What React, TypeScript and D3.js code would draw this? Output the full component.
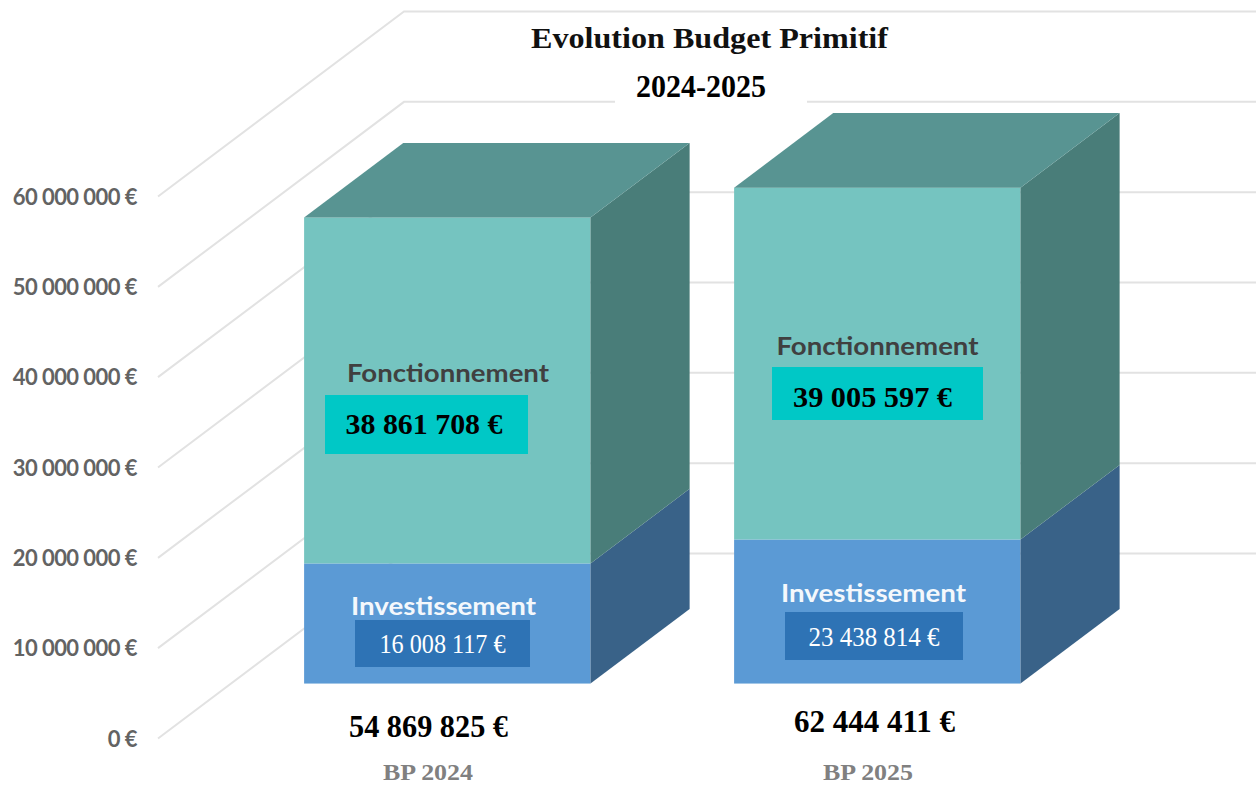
import React from "react";
import * as d3 from "d3";

const categories = ["BP 2024", "BP 2025"];
// bar heights as they read against the axis (the drawing is not exactly to its labels)
const investissementDrawn = [13300000, 15950000];
const fonctionnementDrawn = [38300000, 38950000];
const investissementLabels = ["16 008 117 €", "23 438 814 €"];
const fonctionnementLabels = ["38 861 708 €", "39 005 597 €"];
const totalLabels = ["54 869 825 €", "62 444 411 €"];

const width = 1256;
const height = 785;
const serif = "'Liberation Serif', serif";
const sans = "Lato, sans-serif";

const x = d3
  .scaleBand<string>()
  .domain(categories)
  .range([232.3, 1092.3])
  .paddingInner(0.334)
  .paddingOuter(0.167);
const y = d3.scaleLinear().domain([0, 60000000]).range([738.5, 196.5]);
const depthX = d3.scaleLinear().domain([0, 1]).range([0, 246]);
const depthY = d3.scaleLinear().domain([0, 1]).range([0, -185]);

const frontDepth = 0.297;
const backDepth = 0.7;
const dx = depthX(backDepth) - depthX(frontDepth);
const dy = depthY(backDepth) - depthY(frontDepth);
const frontY = (v: number) => y(v) + depthY(frontDepth);

const locale = d3.formatLocale({
  decimal: ",",
  thousands: " ",
  grouping: [3],
  currency: ["", " €"],
});
const tickFormat = locale.format("$,.0f");

const line = d3.line();

// per bar positions of the value boxes and captions
const fonctBox = [
  { x: 325, y: 395, w: 203, h: 59 },
  { x: 772, y: 367, w: 211, h: 53 },
];
const investBox = [
  { x: 355, y: 620, w: 175, h: 47 },
  { x: 785, y: 612, w: 178, h: 48 },
];
const fonctValue = [
  { x: 424, y: 434, w: 157 },
  { x: 872.5, y: 407, w: 159 },
];
const investValue = [
  { x: 442.5, y: 653, w: 126 },
  { x: 874, y: 646, w: 131 },
];
const fonctCaption = [
  { x: 448, y: 382 },
  { x: 877.5, y: 355 },
];
const investCaption = [
  { x: 443.5, y: 615 },
  { x: 873.5, y: 602 },
];
const totalPos = [
  { x: 428.5, y: 737, w: 159 },
  { x: 874.5, y: 732, w: 161 },
];
const catPos = [
  { x: 428, y: 779.5 },
  { x: 868, y: 779.5 },
];

function Block({ x0, w, v0, v1, front, side, top }: any) {
  const y0 = frontY(v0);
  const y1 = frontY(v1);
  const quad = (pts: [number, number][]) => line(pts) + "Z";
  return (
    <g>
      <rect x={x0} y={y1} width={w} height={y0 - y1} fill={front} />
      <path
        d={quad([
          [x0 + w, y0],
          [x0 + w + dx, y0 + dy],
          [x0 + w + dx, y1 + dy],
          [x0 + w, y1],
        ])}
        fill={side}
      />
      {top && (
        <path
          d={quad([
            [x0, y1],
            [x0 + dx, y1 + dy],
            [x0 + w + dx, y1 + dy],
            [x0 + w, y1],
          ])}
          fill={top}
        />
      )}
    </g>
  );
}

export default function App() {
  const ticks = y.ticks(6);
  const gridColor = "#e2e2e2";
  return (
    <svg
      width={width}
      height={height}
      viewBox={`0 0 ${width} ${height}`}
      style={{ position: "absolute", left: 0, top: 0, background: "#fff" }}
    >
      {ticks.map((t) => (
        <g key={t}>
          <path
            d={
              line([
                [158, y(t)],
                [158 + depthX(1), y(t) + depthY(1)],
                [width, y(t) + depthY(1)],
              ]) as string
            }
            fill="none"
            stroke={gridColor}
            strokeWidth={2}
          />
          <text
            x={137}
            y={y(t) + 8}
            textAnchor="end"
            fontFamily={sans}
            fontWeight={700}
            fontSize={22}
            letterSpacing={-0.55}
            fill="#636363"
          >
            {tickFormat(t)}
          </text>
        </g>
      ))}

      {categories.map((c, i) => {
        const x0 = x(c) as number;
        const w = x.bandwidth();
        const a = investissementDrawn[i];
        const b = a + fonctionnementDrawn[i];
        return (
          <g key={c}>
            <Block x0={x0} w={w} v0={0} v1={a} front="#5b9ad5" side="#396288" />
            <Block
              x0={x0}
              w={w}
              v0={a}
              v1={b}
              front="#75c4c0"
              side="#497d79"
              top="#589492"
            />
            <text
              x={fonctCaption[i].x}
              y={fonctCaption[i].y}
              textAnchor="middle"
              fontFamily={sans}
              fontWeight={700}
              fontSize={25}
              fill="#404040"
              textLength={202}
              lengthAdjust="spacingAndGlyphs"
            >
              Fonctionnement
            </text>
            <rect {...rectOf(fonctBox[i])} fill="#00c8c6" />
            <text
              x={fonctValue[i].x}
              y={fonctValue[i].y}
              textAnchor="middle"
              fontFamily={serif}
              fontWeight={700}
              fontSize={30}
              fill="#000"
              textLength={fonctValue[i].w}
              lengthAdjust="spacingAndGlyphs"
            >
              {fonctionnementLabels[i]}
            </text>
            <text
              x={investCaption[i].x}
              y={investCaption[i].y}
              textAnchor="middle"
              fontFamily={sans}
              fontWeight={700}
              fontSize={25}
              fill="#f4f8fc"
              textLength={185}
              lengthAdjust="spacingAndGlyphs"
            >
              Investissement
            </text>
            <rect {...rectOf(investBox[i])} fill="#2e73b5" />
            <text
              x={investValue[i].x}
              y={investValue[i].y}
              textAnchor="middle"
              fontFamily={serif}
              fontSize={27}
              fill="#fff"
              textLength={investValue[i].w}
              lengthAdjust="spacingAndGlyphs"
            >
              {investissementLabels[i]}
            </text>
            <text
              x={totalPos[i].x}
              y={totalPos[i].y}
              textAnchor="middle"
              fontFamily={serif}
              fontWeight={700}
              fontSize={32}
              fill="#000"
              textLength={totalPos[i].w}
              lengthAdjust="spacingAndGlyphs"
            >
              {totalLabels[i]}
            </text>
            <text
              x={catPos[i].x}
              y={catPos[i].y}
              textAnchor="middle"
              fontFamily={serif}
              fontWeight={700}
              fontSize={24}
              fill="#808080"
              textLength={90}
              lengthAdjust="spacingAndGlyphs"
            >
              {c}
            </text>
          </g>
        );
      })}

      <rect x={615} y={70} width={192} height={36} fill="#fff" />
      <text
        x={709.5}
        y={48}
        textAnchor="middle"
        fontFamily={serif}
        fontWeight={700}
        fontSize={30}
        fill="#111"
        textLength={357}
        lengthAdjust="spacingAndGlyphs"
      >
        Evolution Budget Primitif
      </text>
      <text
        x={701}
        y={97}
        textAnchor="middle"
        fontFamily={serif}
        fontWeight={700}
        fontSize={32}
        fill="#000"
        textLength={130}
        lengthAdjust="spacingAndGlyphs"
      >
        2024-2025
      </text>
    </svg>
  );
}

function rectOf(b: { x: number; y: number; w: number; h: number }) {
  return { x: b.x, y: b.y, width: b.w, height: b.h };
}
